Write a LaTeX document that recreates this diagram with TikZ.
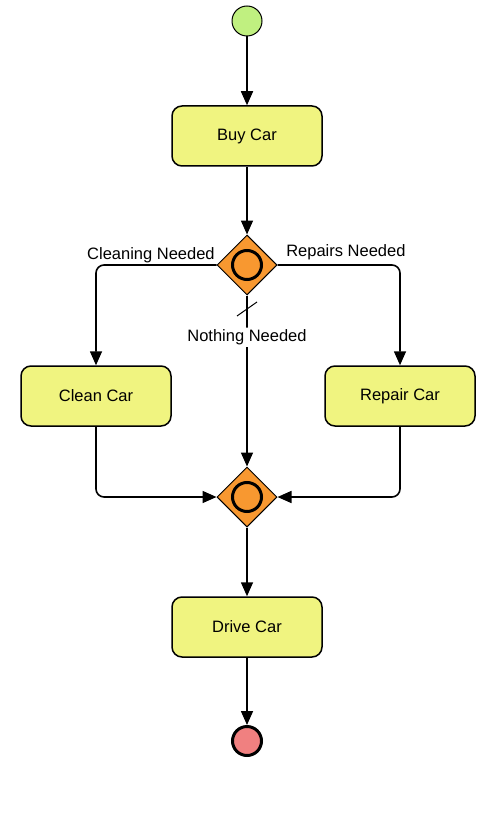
\documentclass[tikz,border=0pt]{standalone}
\usepackage{fontspec}
\setmainfont{Liberation Sans}
\usetikzlibrary{shapes.geometric,arrows.meta}
\definecolor{actfill}{RGB}{240,244,128}
\definecolor{choicefill}{RGB}{248,152,48}
\definecolor{startfill}{RGB}{192,240,128}
\definecolor{endfill}{RGB}{240,128,128}
\begin{document}
\begin{tikzpicture}[x=1pt,y=-1pt,
	every node/.style={font=\fontsize{16.5}{20}\selectfont},
	action/.style={draw, line width=1.5pt, rounded corners=10pt, fill=actfill, minimum width=150pt, minimum height=60pt},
	choice/.style={diamond, draw, line width=1pt, fill=choicefill, minimum width=60pt, minimum height=60pt, inner sep=0pt},
	flow/.style={line width=1.6pt, -{Triangle[length=14pt,width=12pt]}, rounded corners=8pt}]

	\useasboundingbox (0,0) rectangle (501,821);

	% start and end
	\node[circle, draw, line width=1pt, fill=startfill, minimum size=30pt] (start) at (247,21) {};
	\node[circle, draw, line width=3pt, fill=endfill, minimum size=29pt] (finish) at (247,741) {};

	% actions
	\node[action] (buy) at (247,136) {Buy Car};
	\node[action] (clean) at (96,396) {Clean Car};
	\node[action] (repair) at (400,396) {Repair Car};
	\node[action] (drive) at (247,627) {Drive Car};

	% decision and merge
	\node[choice] (dec) at (247,265) {};
	\node[choice] (merge) at (247,497) {};
	\draw[line width=3pt] (dec) circle[radius=14.5pt];
	\draw[line width=3pt] (merge) circle[radius=14.5pt];

	% flows
	\draw[flow] (start) -- (buy);
	\draw[flow] (buy) -- (dec);
	\draw[flow] (dec.west) -| node[pos=0, anchor=south east, inner sep=1pt] {Cleaning Needed} (clean.north);
	\draw[flow] (dec.east) -| node[pos=0, anchor=south west, inner sep=1pt, xshift=7pt, yshift=3pt] {Repairs Needed} (repair.north);
	\draw[flow] (dec) -- node[pos=0.244, fill=white, inner sep=2pt] {Nothing Needed} (merge);
	\coordinate (cut) at (247,309);
	\draw[line width=1pt] ([shift={(-10,7)}]cut) -- ([shift={(10,-7)}]cut);
	\draw[flow] (clean) |- (merge);
	\draw[flow] (repair) |- (merge);
	\draw[flow] (merge) -- (drive);
	\draw[flow] (drive) -- (finish);

\end{tikzpicture}
\end{document}
